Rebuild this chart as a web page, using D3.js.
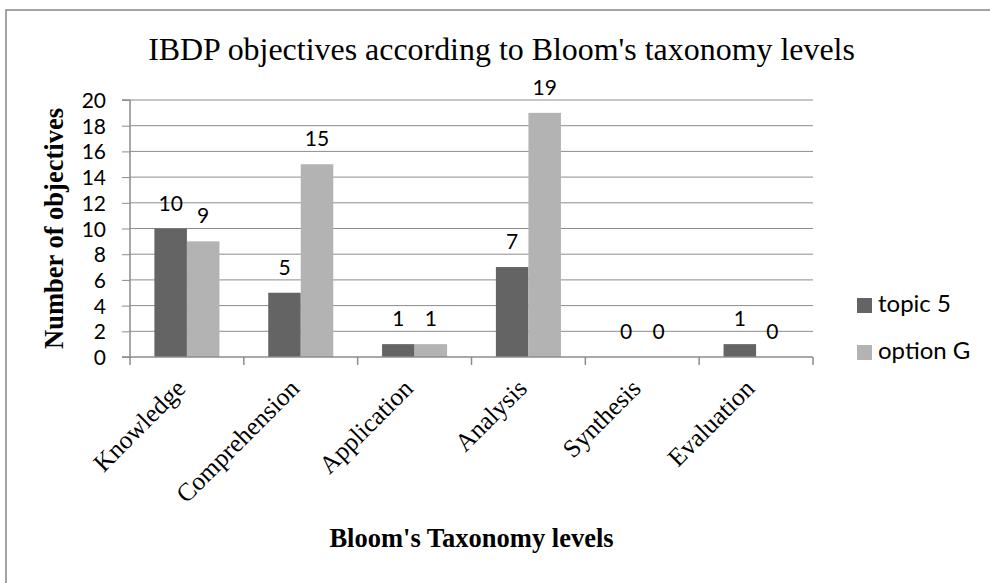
<!DOCTYPE html>
<html><head><meta charset="utf-8">
<script src="https://cdn.jsdelivr.net/npm/d3@7"></script>
<style>body{margin:0;background:#fff}svg{display:block}</style>
</head><body><svg id="c" width="990" height="583"></svg>
<script>
const categories = ["Knowledge","Comprehension","Application","Analysis","Synthesis","Evaluation"];
const seriesNames = ["topic 5","option G"];
const topic5 = [10,5,1,7,0,1];
const optionG = [9,15,1,19,0,0];
const yTicks = [0,2,4,6,8,10,12,14,16,18,20];
const titleText = "IBDP objectives according to Bloom's taxonomy levels";
const yTitle = "Number of objectives";
const xTitle = "Bloom's Taxonomy levels";

const colors = ["#646464","#b3b3b3"];
const serif = "'Liberation Serif','Times New Roman',serif";
const sans = "Lato,'Open Sans',sans-serif";
const svg = d3.select("#c");
const L=130, R=813, T=100, B=357;

// outer border
svg.append("path").attr("d","M6,583V10H990").attr("fill","none").attr("stroke","#878787").attr("stroke-width",1.5);

const x = d3.scaleBand().domain(categories).range([L,R]).paddingInner(0).paddingOuter(0);
const x1 = d3.scaleBand().domain(seriesNames).range([0,x.bandwidth()]).paddingInner(0).paddingOuter(0.75);
const y = d3.scaleLinear().domain([0,20]).range([B,T]);

// gridlines
svg.append("g").selectAll("line").data(yTicks.filter(d=>d>0)).join("line")
  .attr("x1",L).attr("x2",R).attr("y1",d=>y(d)).attr("y2",d=>y(d))
  .attr("stroke","#8c8c8c").attr("stroke-width",1);

// y axis
const ya = svg.append("g").attr("transform",`translate(${L},0)`)
  .call(d3.axisLeft(y).tickValues(yTicks).tickSize(8).tickPadding(16).tickFormat(d3.format("d")));
ya.select(".domain").attr("stroke","#8c8c8c").attr("stroke-width",1.5).attr("d",`M-8,${B}H0V${T}H-8`);
ya.selectAll(".tick line").attr("stroke","#8c8c8c").attr("stroke-width",1);
ya.selectAll("text").attr("font-family",sans).attr("font-size",21).attr("fill","#000").attr("dy","0.36em");

// bars
const data = categories.map((c,i)=>({c, vals:[topic5[i],optionG[i]]}));
const grp = svg.append("g").selectAll("g").data(data).join("g").attr("transform",d=>`translate(${x(d.c)},0)`);
grp.selectAll("rect").data(d=>d.vals.map((v,j)=>({v,s:seriesNames[j],j}))).join("rect")
  .attr("x",d=>x1(d.s)).attr("width",x1.bandwidth())
  .attr("y",d=>y(d.v)).attr("height",d=>y(0)-y(d.v)).attr("fill",d=>colors[d.j]);
grp.selectAll("text").data(d=>d.vals.map((v,j)=>({v,s:seriesNames[j],j}))).join("text")
  .attr("x",d=>x1(d.s)+x1.bandwidth()/2).attr("y",d=>y(d.v)-18)
  .attr("text-anchor","middle").attr("font-family",sans).attr("font-size",21).text(d=>d.v);

// x axis
const xa = svg.append("g").attr("transform",`translate(0,${B})`);
xa.append("line").attr("x1",L).attr("x2",R).attr("stroke","#8c8c8c").attr("stroke-width",1.5);
const bounds = categories.map(c=>x(c)).concat([R]);
xa.selectAll("line.tk").data(bounds).join("line").attr("class","tk")
  .attr("x1",d=>d).attr("x2",d=>d).attr("y1",0).attr("y2",8).attr("stroke","#8c8c8c").attr("stroke-width",1.5);
svg.append("g").selectAll("text").data(categories).join("text")
  .attr("transform",d=>`translate(${x(d)+x.bandwidth()/2},390) rotate(-45)`)
  .attr("text-anchor","end").attr("font-family",serif).attr("font-size",25.5).text(d=>d);

// titles
const tt = svg.append("text").attr("x",501.5).attr("y",60).attr("text-anchor","middle")
  .attr("font-family",serif).attr("font-size",100).text(titleText);
const w = tt.node().getComputedTextLength();
tt.attr("font-size",100*707/w);

svg.append("text").attr("transform",`translate(63,${(T+B)/2}) rotate(-90)`).attr("text-anchor","middle")
  .attr("font-family",serif).attr("font-weight","bold").attr("font-size",26.5).text(yTitle);
svg.append("text").attr("x",(L+R)/2).attr("y",547).attr("text-anchor","middle")
  .attr("font-family",serif).attr("font-weight","bold").attr("font-size",26.5).text(xTitle);

// legend
const lg = svg.append("g").selectAll("g").data(seriesNames).join("g")
  .attr("transform",(d,i)=>`translate(857,${298+i*47})`);
lg.append("rect").attr("width",15).attr("height",15).attr("fill",(d,i)=>colors[i]);
lg.append("text").attr("x",21).attr("y",14).attr("font-family",sans).attr("font-size",24).text(d=>d);
</script></body></html>
